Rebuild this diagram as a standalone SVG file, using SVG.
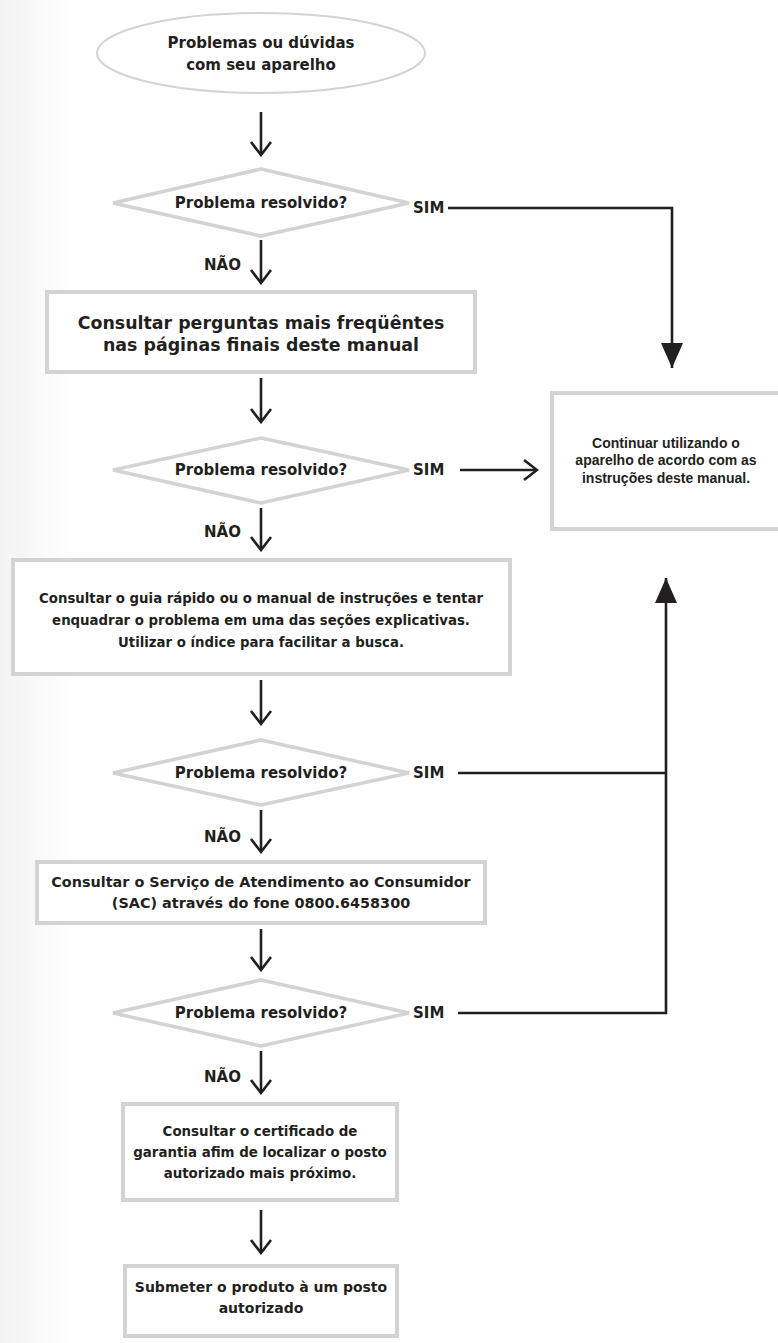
<svg xmlns="http://www.w3.org/2000/svg" width="778" height="1343" viewBox="0 0 778 1343">
<defs>
<linearGradient id="side" x1="0" y1="0" x2="1" y2="0">
<stop offset="0" stop-color="#f3f3f3"/>
<stop offset="1" stop-color="#ffffff"/>
</linearGradient>
<marker id="open" markerUnits="userSpaceOnUse" viewBox="-16 -12 18 24" refX="0" refY="0" markerWidth="18" markerHeight="24" orient="auto">
<path d="M-13,-10 L0,0 L-13,10" fill="none" stroke="#231f20" stroke-width="2.6" stroke-linejoin="miter"/>
</marker>
<marker id="solid" markerUnits="userSpaceOnUse" viewBox="-26 -12 27 24" refX="0" refY="0" markerWidth="27" markerHeight="24" orient="auto">
<path d="M-25,-11 L0,0 L-25,11 Z" fill="#231f20"/>
</marker>
<style>
.shape{fill:#fff;stroke:#d3d3d3;stroke-width:4}
.dia{fill:#fff;stroke:#d3d3d3;stroke-width:3.5}
.ell{fill:#fff;stroke:#d3d3d3;stroke-width:2}
.t{font-family:"DejaVu Sans",Verdana,sans-serif;font-weight:bold;fill:#231f20;text-anchor:middle}
.a{font-family:"Liberation Sans",Arial,sans-serif;font-weight:bold;fill:#231f20;text-anchor:middle}
.lbl{font-family:"DejaVu Sans",Verdana,sans-serif;font-weight:bold;fill:#231f20;font-size:15px}
.c{fill:none;stroke:#231f20;stroke-width:2.6}
</style>
</defs>
<rect x="0" y="0" width="778" height="1343" fill="#fff"/>
<rect x="0" y="0" width="75" height="1343" fill="url(#side)"/>

<g id="connectors">
<line class="c" x1="261" y1="112" x2="261" y2="155" marker-end="url(#open)"/>
<line class="c" x1="261" y1="240" x2="261" y2="283" marker-end="url(#open)"/>
<line class="c" x1="261" y1="378" x2="261" y2="422" marker-end="url(#open)"/>
<line class="c" x1="261" y1="508" x2="261" y2="550" marker-end="url(#open)"/>
<line class="c" x1="261" y1="680" x2="261" y2="724" marker-end="url(#open)"/>
<line class="c" x1="261" y1="810" x2="261" y2="852" marker-end="url(#open)"/>
<line class="c" x1="261" y1="929" x2="261" y2="970" marker-end="url(#open)"/>
<line class="c" x1="261" y1="1051" x2="261" y2="1093" marker-end="url(#open)"/>
<line class="c" x1="261" y1="1210" x2="261" y2="1253" marker-end="url(#open)"/>
<polyline class="c" points="448,208 672,208 672,368" marker-end="url(#solid)"/>
<line class="c" x1="460" y1="470" x2="537" y2="470" marker-end="url(#open)"/>
<line class="c" x1="458" y1="773" x2="666" y2="773"/>
<polyline class="c" points="458,1013 666,1013 666,578" marker-end="url(#solid)"/>
<text class="lbl" x="413" y="213">SIM</text>
<text class="lbl" x="413" y="475">SIM</text>
<text class="lbl" x="413" y="778">SIM</text>
<text class="lbl" x="413" y="1018">SIM</text>
<text class="lbl" x="204" y="270">NÃO</text>
<text class="lbl" x="204" y="537">NÃO</text>
<text class="lbl" x="204" y="842">NÃO</text>
<text class="lbl" x="204" y="1082">NÃO</text>
</g>

<g id="start">
<ellipse class="ell" cx="261" cy="53" rx="164" ry="40"/>
<text class="t" font-size="15" x="261" y="48">Problemas ou dúvidas</text>
<text class="t" font-size="15" x="261" y="70">com seu aparelho</text>
</g>

<g id="decision1">
<polygon class="dia" points="261,169 409,203 261,236 113,203"/>
<text class="t" font-size="15" x="261" y="208">Problema resolvido?</text>
</g>

<g id="faq">
<rect class="shape" x="47" y="292" width="428" height="80"/>
<text class="t" font-size="17.4" x="261" y="329">Consultar perguntas mais freqüêntes</text>
<text class="t" font-size="17.4" x="261" y="351">nas páginas finais deste manual</text>
</g>

<g id="decision2">
<polygon class="dia" points="261,438 409,470 261,503 113,470"/>
<text class="t" font-size="15" x="261" y="475">Problema resolvido?</text>
</g>

<g id="continue">
<rect class="shape" x="552" y="393" width="240" height="136"/>
<text class="a" font-size="14" x="666" y="448">Continuar utilizando o</text>
<text class="a" font-size="14" x="666" y="465">aparelho de acordo com as</text>
<text class="a" font-size="14" x="666" y="483">instruções deste manual.</text>
</g>

<g id="guide">
<rect class="shape" x="13" y="560" width="497" height="114"/>
<text class="t" font-size="13.3" x="261" y="603">Consultar o guia rápido ou o manual de instruções e tentar</text>
<text class="t" font-size="13.3" x="261" y="625">enquadrar o problema em uma das seções explicativas.</text>
<text class="t" font-size="13.3" x="261" y="647">Utilizar o índice para facilitar a busca.</text>
</g>

<g id="decision3">
<polygon class="dia" points="261,740 409,773 261,805 113,773"/>
<text class="t" font-size="15" x="261" y="778">Problema resolvido?</text>
</g>

<g id="sac">
<rect class="shape" x="37" y="862" width="448" height="61"/>
<text class="t" font-size="14.4" x="261" y="887">Consultar o Serviço de Atendimento ao Consumidor</text>
<text class="t" font-size="14.4" x="261" y="908">(SAC) através do fone 0800.6458300</text>
</g>

<g id="decision4">
<polygon class="dia" points="261,980 409,1013 261,1046 113,1013"/>
<text class="t" font-size="15" x="261" y="1018">Problema resolvido?</text>
</g>

<g id="warranty">
<rect class="shape" x="123" y="1104" width="274" height="96"/>
<text class="t" font-size="13.4" x="260" y="1136">Consultar o certificado de</text>
<text class="t" font-size="13.4" x="260" y="1157">garantia afim de localizar o posto</text>
<text class="t" font-size="13.4" x="260" y="1178">autorizado mais próximo.</text>
</g>

<g id="submit">
<rect class="shape" x="125" y="1266" width="272" height="70"/>
<text class="t" font-size="14" x="261" y="1292">Submeter o produto à um posto</text>
<text class="t" font-size="14" x="261" y="1313">autorizado</text>
</g>
</svg>
